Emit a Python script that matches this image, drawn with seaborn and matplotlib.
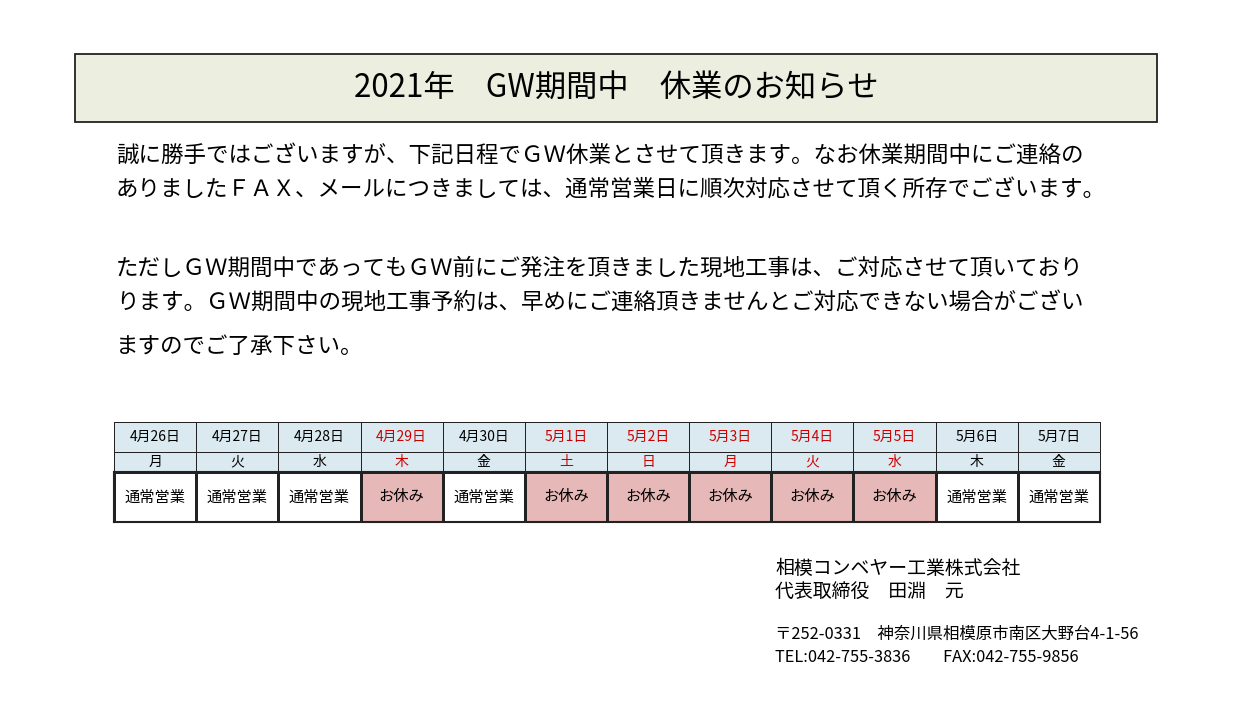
import matplotlib
matplotlib.use("Agg")
import matplotlib.pyplot as plt
from matplotlib.colors import ListedColormap
from matplotlib.patches import Rectangle
import seaborn as sns
import numpy as np

dates = ["4月26日", "4月27日", "4月28日", "4月29日", "4月30日", "5月1日",
         "5月2日", "5月3日", "5月4日", "5月5日", "5月6日", "5月7日"]
weekdays = ["月", "火", "水", "木", "金", "土", "日", "月", "火", "水", "木", "金"]
closed = [0, 0, 0, 1, 0, 1, 1, 1, 1, 1, 0, 0]
status_text = {0: "通常営業", 1: "お休み"}

title = "2021年　GW期間中　休業のお知らせ"
body_lines = [
    (155, "誠に勝手ではございますが、下記日程でＧＷ休業とさせて頂きます。なお休業期間中にご連絡の"),
    (190, "ありましたＦＡＸ、メールにつきましては、通常営業日に順次対応させて頂く所存でございます。"),
    (268, "ただしＧＷ期間中であってもＧＷ前にご発注を頂きました現地工事は、ご対応させて頂いており"),
    (303, "ります。ＧＷ期間中の現地工事予約は、早めにご連絡頂きませんとご対応できない場合がござい"),
    (346, "ますのでご了承下さい。"),
]
company = ["相模コンベヤー工業株式会社", "代表取締役　田淵　元"]
address = ["〒252-0331　神奈川県相模原市南区大野台4-1-56", "TEL:042-755-3836　　FAX:042-755-9856"]

sns.set_theme(style="white")
plt.rcParams["font.family"] = ["Noto Sans CJK JP", "DejaVu Sans"]
plt.rcParams["text.color"] = "black"

W, H = 1240, 720
fig = plt.figure(figsize=(12.4, 7.2), dpi=100)
bg = fig.add_axes([0, 0, 1, 1])
bg.set_xlim(0, W)
bg.set_ylim(H, 0)
bg.axis("off")

# title box
bg.add_patch(Rectangle((75, 54), 1082, 68, facecolor="#eceedf", edgecolor="#222222", lw=1.3))
bg.text(616, 89, title, ha="center", va="center", fontsize=22.5)

for y, line in body_lines:
    bg.text(116, y, line, ha="left", va="center", fontsize=16.2)

bg.text(775, 568, company[0], ha="left", va="center", fontsize=13.6)
bg.text(775, 591, company[1], ha="left", va="center", fontsize=13.6)
bg.text(775, 634, address[0], ha="left", va="center", fontsize=11.8)
bg.text(775, 657, address[1], ha="left", va="center", fontsize=11.8)

# calendar rows as heatmaps
x0, x1 = 114, 1100
rows = [(422, 452), (452, 472), (472, 522)]
red = "#cc0000"
for i, (ya, yb) in enumerate(rows):
    ax = fig.add_axes([x0 / W, 1 - yb / H, (x1 - x0) / W, (yb - ya) / H])
    if i < 2:
        data = np.zeros((1, len(dates)))
        cmap = ListedColormap(["#dbeaf0"])
        labels = dates if i == 0 else weekdays
    else:
        data = np.array([closed])
        cmap = ListedColormap(["#ffffff", "#e6b8b7"])
        labels = [status_text[c] for c in closed]
    sns.heatmap(data, ax=ax, cmap=cmap, vmin=0, vmax=1 if i == 2 else 0.5, cbar=False,
                linewidths=1 if i == 2 else 0.7, linecolor="#222222",
                xticklabels=False, yticklabels=False)
    for j, lab in enumerate(labels):
        col = red if (i < 2 and closed[j]) else "black"
        ax.text(j + 0.5, 0.5, lab, ha="center", va="center", fontsize=11 if i == 2 else 10, color=col)
    for s in ax.spines.values():
        s.set_visible(True)
        s.set_color("#222222")
        s.set_linewidth(1.5 if i == 2 else 0.7)

fig.savefig("out.png", dpi=100)
